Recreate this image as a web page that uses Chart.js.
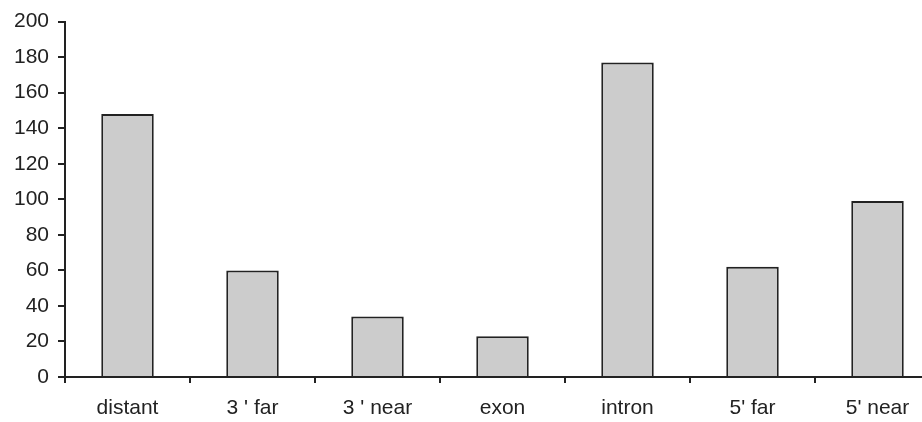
<!DOCTYPE html>
<html lang="en">
<head>
<meta charset="UTF-8">
<title>Region counts</title>
<script src="https://cdn.jsdelivr.net/npm/chart.js@4.4.0/dist/chart.umd.min.js"></script>
<style>
  html, body { margin: 0; padding: 0; background: #fff; overflow: hidden; }
  #wrap { width: 940px; height: 422px; }
</style>
</head>
<body>
<div id="wrap"><canvas id="chart" width="940" height="422"></canvas></div>
<script>
const categories = ['distant', "3 ' far", "3 ' near", 'exon', 'intron', "5' far", "5' near"];
const counts = [148, 60, 34, 23, 177, 62, 99];
const yTicks = [0, 20, 40, 60, 80, 100, 120, 140, 160, 180, 200];

const ink = '#222222';
const font = { family: '"Liberation Sans", Arial, sans-serif', size: 21 };

new Chart(document.getElementById('chart'), {
  type: 'bar',
  data: {
    labels: categories,
    datasets: [{
      data: counts,
      backgroundColor: '#cccccc',
      borderColor: ink,
      borderWidth: 2,
      barPercentage: 0.42,
      categoryPercentage: 1.0
    }]
  },
  options: {
    responsive: false,
    animation: false,
    devicePixelRatio: 1,
    layout: { padding: { top: 20, left: 0, right: 0, bottom: 0 } },
    plugins: { legend: { display: false }, tooltip: { enabled: false } },
    scales: {
      x: {
        offset: true,
        grid: { display: true, drawOnChartArea: false, drawTicks: true, tickLength: 6, offset: true, color: ink, lineWidth: 2 },
        border: { display: true, color: ink, width: 2 },
        ticks: { color: ink, font: font, padding: 13, maxRotation: 0 },
        afterFit: (s) => { s.height = 45; }
      },
      y: {
        min: 0,
        max: 200,
        afterBuildTicks: (s) => { s.ticks = yTicks.map(v => ({ value: v })); },
        grid: { display: true, drawOnChartArea: false, drawTicks: true, tickLength: 7, color: ink, lineWidth: 2 },
        border: { display: true, color: ink, width: 2 },
        ticks: { color: ink, font: font, padding: 9 },
        afterFit: (s) => { s.width = 65; }
      }
    }
  }
});
</script>
</body>
</html>
